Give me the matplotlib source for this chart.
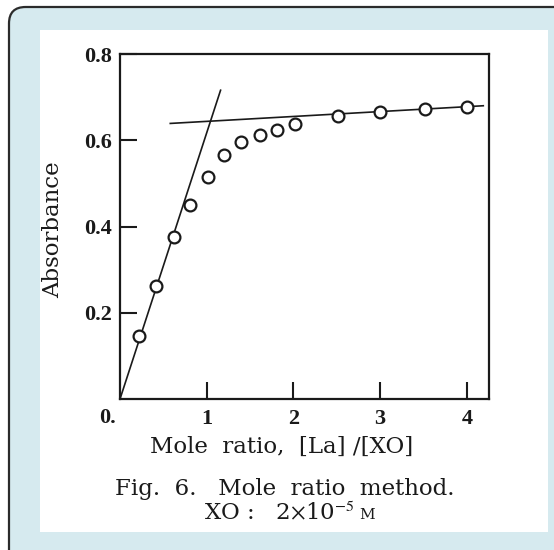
# -*- coding: utf-8 -*-

# Mole ratio method: absorbance vs [La]/[XO]

import matplotlib.pyplot as plt
from matplotlib.patches import FancyBboxPatch, Rectangle

# Measured points
ratio = [0.22, 0.41, 0.62, 0.81, 1.01, 1.20, 1.40, 1.61, 1.81, 2.02, 2.51, 3.00, 3.52, 4.00]
absorbance = [0.146, 0.262, 0.375, 0.450, 0.514, 0.566, 0.597, 0.612, 0.624, 0.637,
              0.657, 0.666, 0.673, 0.677]

# Straight-line extrapolations (initial slope and plateau)
steep_x = [0.0, 1.16]
steep_y = [0.0, 0.716]
flat_x = [0.58, 4.19]
flat_y = [0.639, 0.680]

xticks = [1, 2, 3, 4]
yticks = [0.2, 0.4, 0.6, 0.8]

W, H = 554, 550
plt.rcParams['font.family'] = ['Liberation Serif', 'DejaVu Serif']
plt.rcParams['mathtext.fontset'] = 'stix'
ink = '#1a1a1a'
label_font = ['DejaVu Serif']

fig = plt.figure(figsize=(W / 100, H / 100), dpi=100)
fig.patch.set_facecolor('white')

# card background with rounded border, inner white panel
card = FancyBboxPatch((9 / W, -0.05), 1.2, 1 - 7 / H + 0.05,
                      boxstyle='round,pad=0,rounding_size=0.03',
                      transform=fig.transFigure, facecolor='#d6eaef',
                      edgecolor='#2b2b2b', linewidth=1.6, zorder=0)
fig.patches.append(card)
panel = Rectangle((40 / W, 1 - 532 / H), (548 - 40) / W, (532 - 30) / H,
                  transform=fig.transFigure, facecolor='white',
                  edgecolor='none', zorder=1)
fig.patches.append(panel)

ax = fig.add_axes([120 / W, 1 - 399 / H, (489 - 120) / W, (399 - 54) / H])
ax.set_facecolor('white')
ax.set_zorder(2)

ax.plot(steep_x, steep_y, color=ink, lw=1.2, zorder=3)
ax.plot(flat_x, flat_y, color=ink, lw=1.2, zorder=3)
ax.plot(ratio, absorbance, 'o', ms=8.5, mfc='white', mec=ink, mew=1.6, zorder=4)

ax.set_xlim(0, 4.256)
ax.set_ylim(0, 0.8)
ax.set_xticks(xticks)
ax.set_yticks(yticks)
ax.set_xticklabels([str(t) for t in xticks], fontweight='bold', fontsize=16)
ax.set_yticklabels([f'{t:.1f}' for t in yticks], fontweight='bold', fontsize=16)
ax.tick_params(direction='in', length=12, width=1.5, colors=ink, pad=7)
ax.tick_params(axis='y', pad=6)
for side in ['left', 'bottom', 'right', 'top']:
    ax.spines[side].set_linewidth(1.6)
    ax.spines[side].set_color(ink)

# origin label sits off the corner
ax.annotate('0.', xy=(0, 0), xytext=(-9, -14), textcoords='offset points',
            ha='center', va='center', fontsize=16, fontweight='bold', color=ink)

ax.set_xlabel('Mole  ratio,  [La] /[XO]', fontsize=16.5, color=ink, family=label_font)
ax.xaxis.set_label_coords(0.438, -0.108)
ax.set_ylabel('Absorbance', fontsize=16.5, color=ink, family=label_font)
ax.yaxis.set_label_coords(-0.152, 0.49)

fig.text(285 / W, 1 - 489 / H, 'Fig.  6.   Mole  ratio  method.', ha='center',
         va='center', fontsize=16.5, color=ink, family=label_font)
t = fig.text(279 / W, 1 - 513 / H, r'XO :   2$\times$10$^{-5}$', ha='center',
             va='center', fontsize=16.5, color=ink, family=label_font)
ax.annotate('M', xy=(1, 0), xycoords=t, xytext=(4, 2), textcoords='offset points',
            ha='left', va='bottom', fontsize=11, color=ink, family=label_font,
            annotation_clip=False)

fig.savefig('out.png', dpi=100)
